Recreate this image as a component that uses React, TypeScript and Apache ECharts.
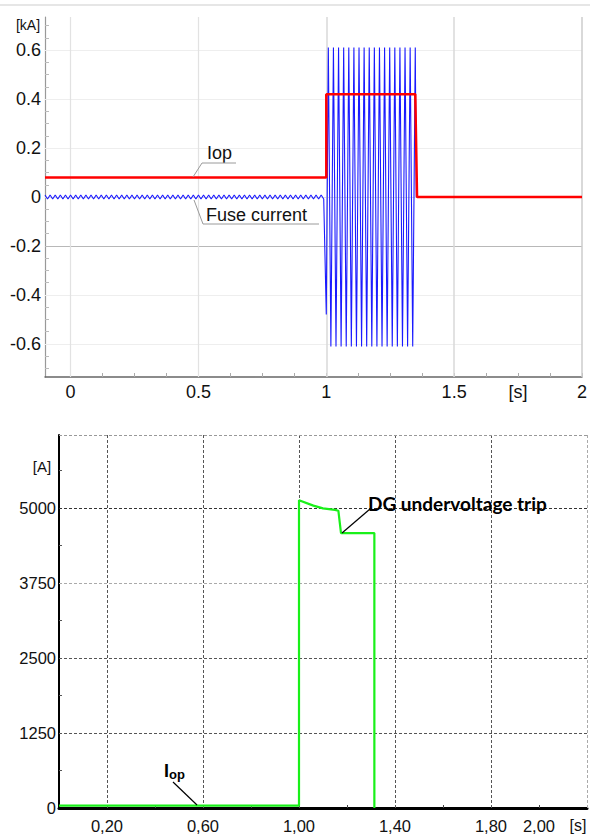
import React, { useEffect, useRef } from "react";
import * as echarts from "echarts";

// ---------- Top chart: Iop and fuse current [kA] vs time [s] ----------
const iopTimes = [-0.1, 1.0, 1.0, 1.348, 1.355, 2.0];
const iopValues = [0.08, 0.08, 0.42, 0.42, 0, 0];

// sampled half-cycle extremes of the fuse current (50 Hz -> 0.01 s spacing)
const halfCycle = 0.01;
const rippleStart = -0.1;
const preFaultRipple = [
  0.008, -0.008, 0.008, -0.008, 0.008, -0.008, 0.008, -0.008, 0.008, -0.008,
  0.008, -0.008, 0.008, -0.008, 0.008, -0.008, 0.008, -0.008, 0.008, -0.008,
  0.008, -0.008, 0.008, -0.008, 0.008, -0.008, 0.008, -0.008, 0.008, -0.008,
  0.008, -0.008, 0.008, -0.008, 0.008, -0.008, 0.008, -0.008, 0.008, -0.008,
  0.008, -0.008, 0.008, -0.008, 0.008, -0.008, 0.008, -0.008, 0.008, -0.008,
  0.008, -0.008, 0.008, -0.008, 0.008, -0.008, 0.008, -0.008, 0.008, -0.008,
  0.008, -0.008, 0.008, -0.008, 0.008, -0.008, 0.008, -0.008, 0.008, -0.008,
  0.008, -0.008, 0.008, -0.008, 0.008, -0.008, 0.008, -0.008, 0.008, -0.008,
  0.008, -0.008, 0.008, -0.008, 0.008, -0.008, 0.008, -0.008, 0.008, -0.008,
  0.008, -0.008, 0.008, -0.008, 0.008, -0.008, 0.008, -0.008, 0.008, -0.008,
  0.008, -0.008, 0.008, -0.008, 0.008, -0.008, 0.008, -0.008, 0.008, -0.008,
];
const faultOnsetTime = 1.0;
const faultOnsetValue = -0.48;
const faultPeakStart = 1.008;
const faultPeaks = [
  0.61, -0.61, 0.61, -0.61, 0.61, -0.61, 0.61, -0.61, 0.61, -0.61,
  0.61, -0.61, 0.61, -0.61, 0.61, -0.61, 0.61, -0.61, 0.61, -0.61,
  0.61, -0.61, 0.61, -0.61, 0.61, -0.61, 0.61, -0.61, 0.61, -0.61,
  0.61, -0.61, 0.61, -0.61, 0.61,
];
const clearedTimes = [1.352, 2.0];
const clearedValues = [0, 0];

const topXLabels = [0, 0.5, 1, 1.5, 2];
const topXUnitAt = 1.75;
const topYLabels = [-0.6, -0.4, -0.2, 0, 0.2, 0.4, 0.6];

// ---------- Bottom chart: Iop [A] vs time [s] ----------
const iopATimes = [0, 1.0, 1.0, 1.06, 1.1, 1.15, 1.164, 1.175, 1.314, 1.314];
const iopAValues = [40, 40, 5130, 5040, 4995, 4968, 4955, 4583, 4583, 0];

const bottomXLabels = [0.2, 0.6, 1.0, 1.4, 1.8, 2.0];
const bottomXGrid = [0.2, 0.6, 1.0, 1.4, 1.8, 2.2];
const bottomYLabels = [0, 1250, 2500, 3750, 5000];

const range = (a: number, b: number, s: number) => {
  const out: number[] = [];
  for (let v = a; v <= b + 1e-9; v += s) out.push(+v.toFixed(4));
  return out;
};

const SANS = "Liberation Sans";

export default function App() {
  const ref = useRef<HTMLDivElement>(null);

  useEffect(() => {
    if (!ref.current) return;
    const chart = echarts.init(ref.current, undefined, { renderer: "svg" });

    const fuseData: number[][] = [];
    preFaultRipple.forEach((v, i) => fuseData.push([rippleStart + i * halfCycle, v]));
    fuseData.push([faultOnsetTime, faultOnsetValue]);
    faultPeaks.forEach((v, i) => fuseData.push([faultPeakStart + i * halfCycle, v]));
    clearedTimes.forEach((t, i) => fuseData.push([t, clearedValues[i]]));

    const iopData = iopTimes.map((t, i) => [t, iopValues[i]]);
    const iopAData = iopATimes.map((t, i) => [t, iopAValues[i]]);

    const faint = { color: "#eeeeee", width: 1, type: "solid" };
    const topGrid = [
      { yAxis: 0.6, lineStyle: faint },
      { yAxis: 0.4, lineStyle: faint },
      { yAxis: 0.2, lineStyle: faint },
      { yAxis: 0, lineStyle: { color: "#dddddd", width: 1, type: "solid" } },
      { yAxis: -0.2, lineStyle: { color: "#b8b8b8", width: 1, type: "solid" } },
      { yAxis: -0.4, lineStyle: faint },
      { yAxis: -0.6, lineStyle: faint },
      { xAxis: 0, lineStyle: { color: "#e2e2e2", width: 1.2, type: "solid" } },
      { xAxis: 0.5, lineStyle: { color: "#e2e2e2", width: 1.2, type: "solid" } },
      { xAxis: 1, lineStyle: { color: "#d8d8d8", width: 1.5, type: "solid" } },
      { xAxis: 1.5, lineStyle: { color: "#d8d8d8", width: 1.5, type: "solid" } },
      { xAxis: 2, lineStyle: { color: "#cccccc", width: 1.5, type: "solid" } },
    ];

    const dash = (c: string) => ({ color: c, width: 1, type: [3, 2] as any });
    const bottomYMax = 6217;
    const bottomGrid = [
      ...bottomXGrid.map((v) => ({ xAxis: v, lineStyle: dash(v === 2.2 ? "#aaaaaa" : "#555555") })),
      { yAxis: 1250, lineStyle: dash("#555555") },
      { yAxis: 2500, lineStyle: dash("#555555") },
      { yAxis: 3750, lineStyle: dash("#aaaaaa") },
      { yAxis: 5000, lineStyle: dash("#333333") },
      { yAxis: bottomYMax, lineStyle: dash("#999999") },
    ];

    const Z = 100;
    const option: any = {
      animation: false,
      backgroundColor: "#ffffff",
      textStyle: { fontFamily: SANS },
      grid: [
        { left: 45, top: 17, right: 6, bottom: 458 },
        { left: 59, top: 435, right: 3, bottom: 27 },
      ],
      xAxis: [
        {
          type: "value",
          gridIndex: 0,
          min: -0.1,
          max: 2.0,
          axisLine: { show: true, onZero: false, lineStyle: { color: "#666666", width: 1.5 } },
          axisTick: {
            show: true,
            inside: true,
            length: 4,
            customValues: range(0, 2, 0.125),
            lineStyle: { color: "#aaaaaa" },
          },
          axisLabel: {
            customValues: [...topXLabels, topXUnitAt],
            formatter: (v: number) => (Math.abs(v - topXUnitAt) < 1e-6 ? "[s]" : String(v)),
            fontSize: 18,
            fontFamily: SANS,
            color: "#111111",
            margin: 6,
          },
          splitLine: { show: false },
        },
        {
          type: "value",
          gridIndex: 1,
          min: 0,
          max: 2.2,
          axisLine: { show: true, onZero: false, lineStyle: { color: "#000000", width: 3 } },
          axisTick: {
            show: true,
            inside: true,
            length: 3,
            customValues: range(0.2, 2.2, 0.2),
            lineStyle: { color: "#444444" },
          },
          axisLabel: {
            customValues: bottomXLabels,
            formatter: (v: number) => v.toFixed(2).replace(".", ","),
            fontSize: 16.5,
            fontFamily: SANS,
            color: "#111111",
            margin: 9,
          },
          splitLine: { show: false },
        },
      ],
      yAxis: [
        {
          type: "value",
          gridIndex: 0,
          min: -0.735,
          max: 0.735,
          axisLine: { show: true, onZero: false, lineStyle: { color: "#999999", width: 1.2 } },
          axisTick: {
            show: true,
            inside: true,
            length: 4,
            customValues: range(-0.7, 0.7, 0.05),
            lineStyle: { color: "#bbbbbb" },
          },
          axisLabel: {
            customValues: topYLabels,
            formatter: (v: number) => (Math.abs(v) < 1e-9 ? "0" : v.toFixed(1)),
            fontSize: 18,
            fontFamily: SANS,
            color: "#111111",
            margin: 4,
          },
          splitLine: { show: false },
        },
        {
          type: "value",
          gridIndex: 1,
          min: 0,
          max: bottomYMax,
          axisLine: { show: true, onZero: false, lineStyle: { color: "#000000", width: 2 } },
          axisTick: {
            show: true,
            inside: true,
            length: 3,
            customValues: range(625, 5625, 625),
            lineStyle: { color: "#555555" },
          },
          axisLabel: {
            customValues: bottomYLabels,
            formatter: (v: number) => String(Math.round(v)),
            fontSize: 16.5,
            fontFamily: SANS,
            color: "#111111",
            margin: 3,
          },
          splitLine: { show: false },
        },
      ],
      series: [
        {
          name: "Fuse current",
          type: "line",
          xAxisIndex: 0,
          yAxisIndex: 0,
          data: fuseData,
          showSymbol: false,
          symbol: "none",
          lineStyle: { color: "#1a1aff", width: 1.1 },
          z: 2,
          markLine: {
            silent: true,
            z: 1,
            symbol: ["none", "none"],
            label: { show: false },
            animation: false,
            data: topGrid,
          },
        },
        {
          name: "Iop",
          type: "line",
          xAxisIndex: 0,
          yAxisIndex: 0,
          data: iopData,
          showSymbol: false,
          symbol: "none",
          lineStyle: { color: "#ff0000", width: 2.5 },
          z: 3,
        },
        {
          name: "Iop [A]",
          type: "line",
          xAxisIndex: 1,
          yAxisIndex: 1,
          data: iopAData,
          showSymbol: false,
          symbol: "none",
          lineStyle: { color: "#19f019", width: 2.2 },
          z: 3,
          markLine: {
            silent: true,
            z: 1,
            symbol: ["none", "none"],
            label: { show: false },
            animation: false,
            data: bottomGrid,
          },
        },
      ],
      graphic: [
        { type: "line", z: Z, shape: { x1: 0, y1: 5, x2: 590, y2: 5 }, style: { stroke: "#e6e6e6", lineWidth: 2 } },
        // top chart annotations
        { type: "text", z: Z, x: 28, y: 25, style: { text: "[kA]", fill: "#111", fontSize: 14, fontFamily: SANS, textAlign: "center", textVerticalAlign: "middle" } },
        { type: "text", z: Z, x: 207, y: 153, style: { text: "Iop", fill: "#111", fontSize: 18, fontFamily: SANS, textAlign: "left", textVerticalAlign: "middle" } },
        { type: "polyline", z: Z, shape: { points: [[193, 177], [202, 163], [236, 163]] }, style: { stroke: "#9a9a9a", lineWidth: 1, fill: "none" } },
        { type: "text", z: Z, x: 206, y: 215, style: { text: "Fuse current", fill: "#111", fontSize: 18, fontFamily: SANS, textAlign: "left", textVerticalAlign: "middle" } },
        { type: "polyline", z: Z, shape: { points: [[194, 200], [203, 224], [319, 224]] }, style: { stroke: "#9a9a9a", lineWidth: 1, fill: "none" } },
        // bottom chart annotations
        { type: "text", z: Z, x: 42, y: 466, style: { text: "[A]", fill: "#111", fontSize: 15, fontFamily: SANS, textAlign: "center", textVerticalAlign: "middle" } },
        { type: "text", z: Z, x: 578, y: 825, style: { text: "[s]", fill: "#111", fontSize: 16, fontFamily: SANS, textAlign: "center", textVerticalAlign: "middle" } },
        { type: "text", z: Z, x: 368, y: 503, style: { text: "DG undervoltage trip", fill: "#000", fontSize: 19, fontWeight: "bold", fontFamily: "Lato", textAlign: "left", textVerticalAlign: "middle" } },
        { type: "line", z: Z, shape: { x1: 370, y1: 509, x2: 342, y2: 533 }, style: { stroke: "#000", lineWidth: 1.2 } },
        {
          type: "text",
          z: Z,
          x: 164,
          y: 771,
          style: {
            text: "{a|I}{b|op}",
            textAlign: "left",
            textVerticalAlign: "middle",
            rich: {
              a: { fontSize: 18, fontWeight: "bold", fontFamily: SANS, fill: "#000", color: "#000" },
              b: { fontSize: 13, fontWeight: "bold", fontFamily: SANS, fill: "#000", color: "#000", padding: [7, 0, 0, 0] },
            },
          },
        },
        { type: "line", z: Z, shape: { x1: 173, y1: 782, x2: 197, y2: 805 }, style: { stroke: "#000", lineWidth: 1.2 } },
      ],
    };

    chart.setOption(option);
    return () => chart.dispose();
  }, []);

  return (
    <div
      ref={ref}
      style={{ position: "absolute", left: 0, top: 0, width: 590, height: 835, background: "#fff" }}
    />
  );
}
